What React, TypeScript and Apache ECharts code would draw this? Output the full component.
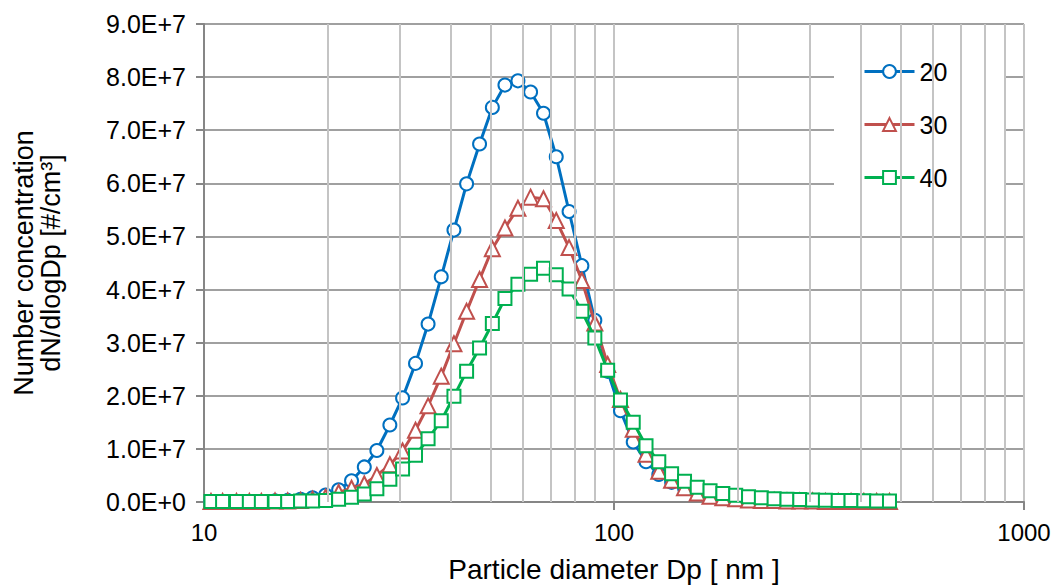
import React, { useEffect, useRef } from "react";
import * as echarts from "echarts";

// Particle diameter bins [nm]
const diameters = [
  10.4, 11.1, 12.0, 12.9, 13.8, 14.9, 16.0, 17.2, 18.4, 19.8,
  21.3, 22.9, 24.6, 26.4, 28.4, 30.5, 32.8, 35.2, 37.9, 40.7,
  43.7, 47.0, 50.5, 54.2, 58.3, 62.6, 67.3, 72.3, 77.7, 83.5,
  89.8, 96.5, 103.7, 111.4, 119.7, 128.6, 138.2, 148.6, 159.6, 171.5,
  184.3, 198.1, 212.9, 228.8, 245.8, 264.2, 283.9, 305.1, 327.8, 352.3,
  378.6, 406.8, 437.1, 469.8,
];

// dN/dlogDp [#/cm3]
const series20 = [
  0.01e7, 0.01e7, 0.01e7, 0.01e7, 0.01e7, 0.02e7, 0.03e7, 0.05e7, 0.08e7, 0.13e7,
  0.23e7, 0.40e7, 0.66e7, 0.97e7, 1.45e7, 1.96e7, 2.61e7, 3.35e7, 4.24e7, 5.12e7,
  5.99e7, 6.74e7, 7.43e7, 7.85e7, 7.93e7, 7.72e7, 7.32e7, 6.50e7, 5.47e7, 4.45e7,
  3.42e7, 2.46e7, 1.72e7, 1.13e7, 0.76e7, 0.52e7, 0.37e7, 0.26e7, 0.18e7, 0.13e7,
  0.09e7, 0.07e7, 0.05e7, 0.04e7, 0.03e7, 0.02e7, 0.02e7, 0.02e7, 0.01e7, 0.01e7,
  0.01e7, 0.01e7, 0.01e7, 0.01e7,
];
const series30 = [
  0.01e7, 0.01e7, 0.01e7, 0.01e7, 0.01e7, 0.02e7, 0.02e7, 0.03e7, 0.05e7, 0.09e7,
  0.18e7, 0.26e7, 0.34e7, 0.50e7, 0.70e7, 0.96e7, 1.35e7, 1.81e7, 2.37e7, 2.98e7,
  3.59e7, 4.19e7, 4.77e7, 5.16e7, 5.53e7, 5.74e7, 5.71e7, 5.30e7, 4.79e7, 4.17e7,
  3.37e7, 2.59e7, 1.93e7, 1.37e7, 0.90e7, 0.58e7, 0.41e7, 0.27e7, 0.17e7, 0.11e7,
  0.08e7, 0.06e7, 0.04e7, 0.03e7, 0.03e7, 0.02e7, 0.02e7, 0.02e7, 0.01e7, 0.01e7,
  0.01e7, 0.01e7, 0.01e7, 0.01e7,
];
const series40 = [
  0.01e7, 0.01e7, 0.01e7, 0.01e7, 0.01e7, 0.01e7, 0.01e7, 0.02e7, 0.02e7, 0.03e7,
  0.05e7, 0.09e7, 0.15e7, 0.25e7, 0.43e7, 0.62e7, 0.88e7, 1.19e7, 1.53e7, 1.99e7,
  2.46e7, 2.90e7, 3.36e7, 3.83e7, 4.10e7, 4.29e7, 4.40e7, 4.28e7, 4.01e7, 3.59e7,
  3.09e7, 2.48e7, 1.92e7, 1.50e7, 1.06e7, 0.76e7, 0.53e7, 0.39e7, 0.28e7, 0.21e7,
  0.16e7, 0.125e7, 0.10e7, 0.08e7, 0.06e7, 0.05e7, 0.045e7, 0.04e7, 0.035e7, 0.03e7,
  0.03e7, 0.025e7, 0.02e7, 0.02e7,
];

const seriesNames = ["20", "30", "40"];
const minorGridValues = [20, 30, 40, 50, 60, 70, 80, 90, 200, 300, 400, 500, 600, 700, 800, 900];

const FONT = "'Liberation Sans', Arial, sans-serif";

function fmtSci(v: number): string {
  if (v === 0) return "0.0E+0";
  const e = Math.floor(Math.log10(v) + 1e-9);
  const m = v / Math.pow(10, e);
  return m.toFixed(1) + "E+" + e;
}

export default function App() {
  const ref = useRef<HTMLDivElement>(null);
  useEffect(() => {
    if (!ref.current) return;
    const chart = echarts.init(ref.current, undefined, { renderer: "svg" });
    const mk = (vals: number[]) => diameters.map((d, i) => [d, vals[i]]);
    const colors = ["#0070C0", "#C0504D", "#00B050"];
    const symbols = ["circle", "triangle", "rect"];
    const sizes = [13, 15, 13];
    const valueSets = [series20, series30, series40];
    chart.setOption({
      animation: false,
      textStyle: { fontFamily: FONT },
      grid: { left: 204, right: 33, top: 24, bottom: 83, containLabel: false },
      graphic: [
        {
          type: "rect",
          z: 1,
          silent: true,
          shape: { x: 834, y: 44, width: 172, height: 158 },
          style: { fill: "#ffffff" },
        },
      ],
      legend: {
        data: seriesNames,
        orient: "vertical",
        left: 834,
        top: 43,
        padding: [16, 10, 14, 29],
        itemWidth: 50,
        itemHeight: 16,
        itemGap: 28,
        lineStyle: { width: 3 },
        textStyle: { fontSize: 25, color: "#000", fontFamily: FONT, lineHeight: 25 },
      },
      xAxis: {
        type: "log",
        logBase: 10,
        min: 10,
        max: 1000,
        name: "Particle diameter Dp [ nm ]",
        nameLocation: "middle",
        nameGap: 53,
        nameTextStyle: { fontSize: 28, color: "#000", fontFamily: FONT },
        axisLine: { lineStyle: { color: "#868686", width: 2 } },
        axisTick: { show: true, length: 8, lineStyle: { color: "#868686", width: 2 } },
        axisLabel: {
          fontSize: 24,
          color: "#000",
          margin: 18,
          fontFamily: FONT,
          formatter: (v: number) => String(Math.round(v)),
        },
        splitLine: { show: true, lineStyle: { color: "#c4c4c4", width: 2 } },
      },
      yAxis: {
        type: "value",
        min: 0,
        max: 9e7,
        interval: 1e7,
        name: "Number concentration\ndN/dlogDp [#/cm³]",
        nameLocation: "middle",
        nameRotate: 90,
        nameGap: 140,
        nameTextStyle: { fontSize: 27, color: "#000", fontFamily: FONT, lineHeight: 27 },
        axisLine: { show: true, lineStyle: { color: "#868686", width: 2 } },
        axisTick: { show: true, length: 8, lineStyle: { color: "#868686", width: 2 } },
        axisLabel: { fontSize: 25, color: "#000", margin: 18, formatter: fmtSci, fontFamily: FONT },
        splitLine: { show: true, lineStyle: { color: "#a0a0a0", width: 2 } },
      },
      series: [
        {
          name: "minor-grid",
          type: "line",
          data: [],
          z: 0,
          silent: true,
          markLine: {
            silent: true,
            symbol: ["none", "none"],
            label: { show: false },
            lineStyle: { color: "#c4c4c4", width: 2, type: "solid" },
            data: minorGridValues.map((v) => ({ xAxis: v })),
          },
        },
        ...valueSets.map((vals, k) => ({
          name: seriesNames[k],
          type: "line",
          data: mk(vals),
          symbol: symbols[k],
          symbolSize: sizes[k],
          showAllSymbol: true,
          lineStyle: { color: colors[k], width: 3 },
          itemStyle: { color: "#ffffff", borderColor: colors[k], borderWidth: 2 },
          z: 2 + k,
        })),
      ],
    });
    return () => chart.dispose();
  }, []);
  return (
    <div
      ref={ref}
      style={{ position: "absolute", left: 0, top: 0, width: 1057, height: 588, background: "#fff" }}
    />
  );
}
